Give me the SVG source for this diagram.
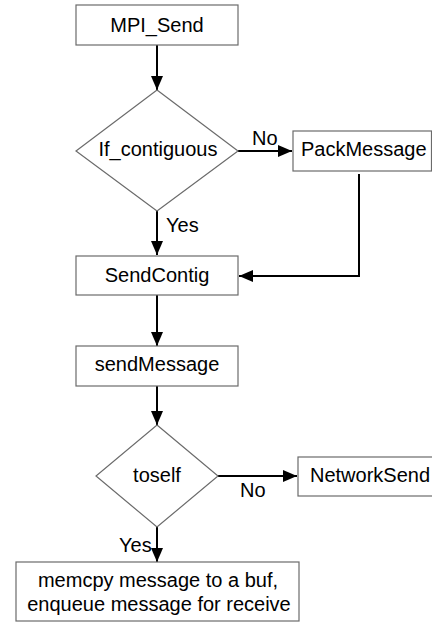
<svg xmlns="http://www.w3.org/2000/svg" width="432" height="624" viewBox="0 0 432 624">
  <style>
    .box { fill: #ffffff; stroke: #6b6b6b; stroke-width: 1.2; }
    .txt { font-family: "Liberation Sans", Arial, sans-serif; font-size: 20px; fill: #000000; }
    .mid { text-anchor: middle; }
    .edge { fill: none; stroke: #000000; stroke-width: 2; }
  </style>
  <defs>
    <marker id="arrow" viewBox="0 0 14 12" refX="14" refY="6" markerWidth="14" markerHeight="12" markerUnits="userSpaceOnUse" orient="auto">
      <path d="M0,0 L14,6 L0,12 Z" fill="#000000"/>
    </marker>
  </defs>
  <rect width="432" height="624" fill="#ffffff"/>

  <g id="connectors">
    <line class="edge" x1="157" y1="45" x2="157" y2="90" marker-end="url(#arrow)"/>
    <line class="edge" x1="238" y1="151" x2="292" y2="151" marker-end="url(#arrow)"/>
    <line class="edge" x1="157" y1="211" x2="157" y2="255" marker-end="url(#arrow)"/>
    <polyline class="edge" points="359,174 359,276 239,276" marker-end="url(#arrow)"/>
    <line class="edge" x1="157" y1="295" x2="157" y2="346" marker-end="url(#arrow)"/>
    <line class="edge" x1="157" y1="386" x2="157" y2="425" marker-end="url(#arrow)"/>
    <line class="edge" x1="218" y1="476" x2="297" y2="476" marker-end="url(#arrow)"/>
    <line class="edge" x1="157" y1="527" x2="157" y2="562" marker-end="url(#arrow)"/>
    <text class="txt" x="252" y="145">No</text>
    <text class="txt" x="166" y="232">Yes</text>
    <text class="txt" x="240" y="497">No</text>
    <text class="txt" x="119" y="552">Yes</text>
  </g>

  <g id="mpi_send">
    <rect class="box" x="76" y="5" width="162" height="40"/>
    <text class="txt mid" x="157" y="32">MPI_Send</text>
  </g>

  <g id="if_contiguous">
    <polygon class="box" points="157,90 238,151 157,211 76,151"/>
    <text class="txt mid" x="158" y="156">If_contiguous</text>
  </g>

  <g id="pack_message">
    <rect class="box" x="293" y="131" width="138.5" height="40"/>
    <text class="txt" x="301" y="156">PackMessage</text>
  </g>

  <g id="send_contig">
    <rect class="box" x="76" y="256" width="162" height="39"/>
    <text class="txt mid" x="157" y="282">SendContig</text>
  </g>

  <g id="send_message">
    <rect class="box" x="76" y="346" width="162" height="40"/>
    <text class="txt mid" x="157" y="371">sendMessage</text>
  </g>

  <g id="toself">
    <polygon class="box" points="157,425 218,476 157,527 96,476"/>
    <text class="txt mid" x="157" y="482">toself</text>
  </g>

  <g id="network_send">
    <rect class="box" x="298" y="457" width="150" height="39"/>
    <text class="txt" x="310" y="482">NetworkSend</text>
  </g>

  <g id="memcpy_enqueue">
    <rect class="box" x="16" y="562" width="283" height="59"/>
    <text class="txt mid" x="158" y="587">memcpy message to a buf,</text>
    <text class="txt mid" x="159" y="611">enqueue message for receive</text>
  </g>
</svg>
